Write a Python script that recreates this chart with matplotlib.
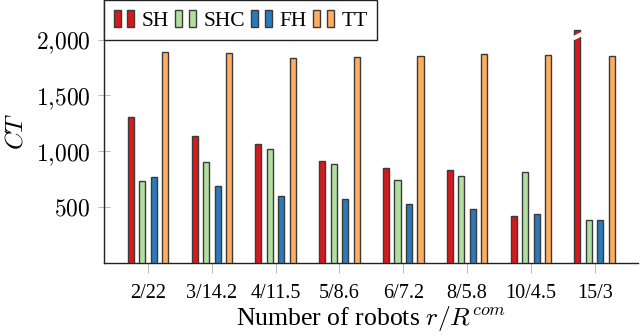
import matplotlib
matplotlib.use('Agg')
import matplotlib.pyplot as plt
import numpy as np
from matplotlib.patches import Rectangle
from matplotlib.legend_handler import HandlerTuple
from matplotlib.ticker import FuncFormatter

plt.rcParams['font.family'] = ['Liberation Serif', 'DejaVu Serif']
plt.rcParams['mathtext.fontset'] = 'cm'

# ---- data
groups = ['2/22', '3/14.2', '4/11.5', '5/8.6', '6/7.2', '8/5.8', '10/4.5', '15/3']
SH  = [1308, 1135, 1070, 914, 852, 837, 419, 2090]
SHC = [735, 905, 1022, 885, 744, 780, 816, 389]
FH  = [766, 688, 601, 569, 533, 488, 443, 389]
TT  = [1885, 1881, 1837, 1846, 1849, 1867, 1861, 1852]
names  = ['SH', 'SHC', 'FH', 'TT']
colors = ['#d7191c', '#b2dfa0', '#2b7bba', '#fdae61']
ybreak = 2030   # the SH 15/3 bar is drawn cut off

series = [SH, SHC, FH, TT]

fig = plt.figure(figsize=(6.4, 3.36), dpi=100)
ax = fig.add_axes([0.1625, 0.217, 0.8345, 0.783])

x = np.arange(len(groups))
dx = 0.18
bw = 0.095
edge = '#3a3a3a'
for i, s in enumerate(series):
    ax.bar(x + (i - 1.5)*dx, s, width=bw, color=colors[i], edgecolor=edge,
           linewidth=1.0, zorder=3)

# break marker on the truncated bar
xb = x[-1] - 1.5*dx
ax.plot([xb - 0.07, xb + 0.07], [ybreak - 20, ybreak + 20], color='white',
        linewidth=3, solid_capstyle='butt', zorder=4)

ax.set_xlim(-0.69, 7.68)
ax.set_ylim(0, 2354)
ax.set_yticks([500, 1000, 1500, 2000])
ax.yaxis.set_major_formatter(FuncFormatter(lambda v, p: r'$%s$' % ('{:,}'.format(int(v)).replace(',', '{,}'))))
ax.set_xticks(x)
ax.set_xticklabels(groups, fontsize=14.5)

for sp in ['top', 'right']:
    ax.spines[sp].set_visible(False)
for sp in ['left', 'bottom']:
    ax.spines[sp].set_color('#222222')
    ax.spines[sp].set_linewidth(1.0)

ax.tick_params(axis='y', direction='inout', length=9, color='#bbbbbb', labelsize=17, pad=5)
ax.tick_params(axis='x', direction='out', length=7, color='#bbbbbb', pad=8)

ax.set_xlabel(r'Number of robots $r/R^{com}$', fontsize=18.5, labelpad=1)
ax.set_ylabel(r'$CT$', fontsize=18, labelpad=6)

handles = [(Rectangle((0, 0), 1, 1, facecolor=c, edgecolor=edge, linewidth=1.0),
            Rectangle((0, 0), 1, 1, facecolor=c, edgecolor=edge, linewidth=1.0)) for c in colors]
leg = ax.legend(handles, names, handler_map={tuple: HandlerTuple(ndivide=None, pad=0.3)},
                loc='upper left', bbox_to_anchor=(0.0, 1.0), borderaxespad=0, ncol=4,
                fontsize=15.5, handlelength=0.95, handleheight=0.85, handletextpad=0.35,
                columnspacing=0.3, borderpad=0.45, fancybox=False, framealpha=1)
leg.get_frame().set_edgecolor('#222222')
leg.get_frame().set_linewidth(1.0)

fig.savefig('out.png', dpi=100)
